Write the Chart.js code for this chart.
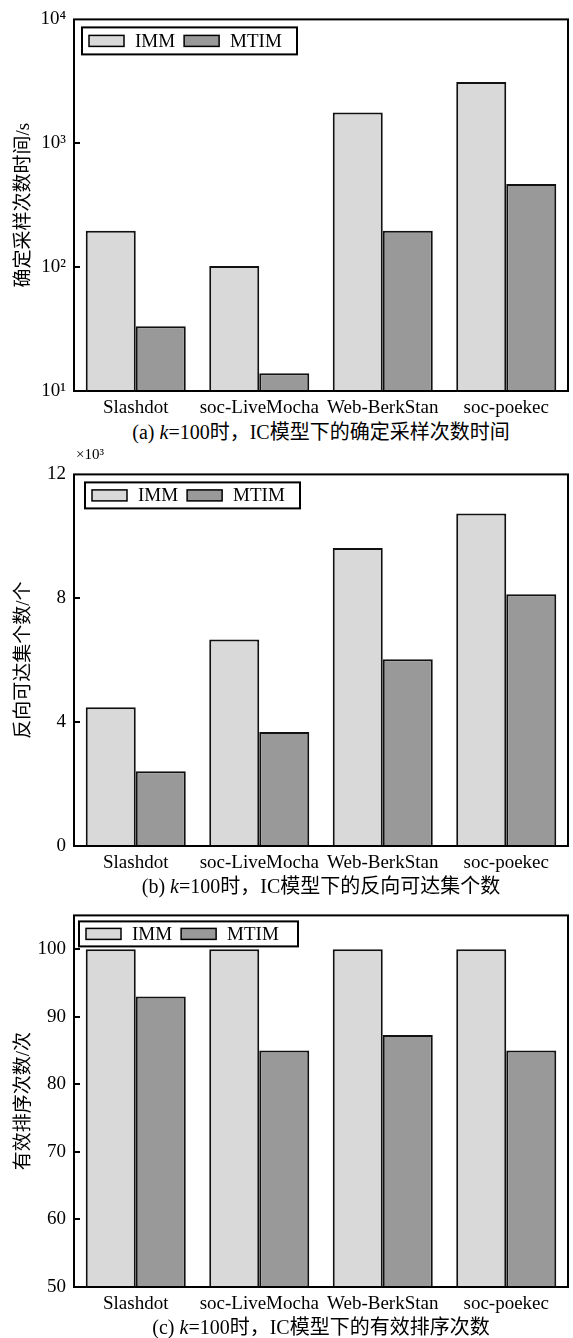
<!DOCTYPE html>
<html>
<head>
<meta charset="utf-8">
<script src="https://cdn.jsdelivr.net/npm/chart.js@4/dist/chart.umd.min.js"></script>
<style>
  body { margin: 0; background: #fff; }
  #page { position: relative; width: 573px; height: 1338px; font-family: "Liberation Serif", "Noto Sans CJK SC", serif; color: #000; }
  .panel { position: absolute; left: 0; width: 573px; height: 420px; }
  .caption { position: absolute; left: 74px; width: 494px; text-align: center; font-size: 20px; line-height: 24px; white-space: nowrap; }
  .mult { position: absolute; left: 76px; top: 446px; font-size: 15px; }
</style>
</head>
<body>
<div id="page">
  <div class="panel" style="top:0px"><canvas id="c1" width="573" height="420"></canvas></div>
  <div class="panel" style="top:455px"><canvas id="c2" width="573" height="420"></canvas></div>
  <div class="panel" style="top:896px"><canvas id="c3" width="573" height="420"></canvas></div>
  <div class="caption" style="top:420px">(a) <i>k</i>=100时，IC模型下的确定采样次数时间</div>
  <div class="mult">×10³</div>
  <div class="caption" style="top:874px">(b) <i>k</i>=100时，IC模型下的反向可达集个数</div>
  <div class="caption" style="top:1315px">(c) <i>k</i>=100时，IC模型下的有效排序次数</div>
</div>
<script>
const categories = ['Slashdot', 'soc-LiveMocha', 'Web-BerkStan', 'soc-poekec'];
const seriesNames = ['IMM', 'MTIM'];

// (a) sampling-count time, seconds (log axis)
const timeIMM = [197, 102, 1770, 3120];
const timeMTIM = [33.4, 13.9, 197, 469];
const timeTicks = [10, 100, 1000, 10000];
const timeTickLabels = ['10¹', '10²', '10³', '10⁴'];

// (b) number of reverse reachable sets
const rrIMM = [4480, 6670, 9620, 10740];
const rrMTIM = [2410, 3680, 6030, 8130];
const rrTicks = [0, 4000, 8000, 12000];
const rrTickLabels = ['0', '4', '8', '12'];

// (c) effective sorting count
const sortIMM = [100, 100, 100, 100];
const sortMTIM = [93, 85, 87.3, 85];
const sortTicks = [50, 60, 70, 80, 90, 100];
const sortTickLabels = ['50', '60', '70', '80', '90', '100'];

const FONT = '"Liberation Serif", "Noto Sans CJK SC", serif';
const immColor = '#d9d9d9';
const mtimColor = '#999999';

// frame around the plot, inward tick marks, boxed legend
const framePlugin = {
    id: 'frame',
    afterDatasetsDraw(chart, args, opts) {
        const { ctx, chartArea: a } = chart;
        const y = chart.scales.y;
        ctx.save();
        ctx.strokeStyle = '#000';
        ctx.lineWidth = 2;
        ctx.strokeRect(a.left, a.top, a.right - a.left, a.bottom - a.top);
        y.ticks.forEach(t => {
            const py = Math.round(y.getPixelForValue(t.value));
            if (py <= a.top + 2 || py >= a.bottom - 2) return;
            ctx.beginPath();
            ctx.moveTo(a.left, py);
            ctx.lineTo(a.left + 6, py);
            ctx.stroke();
        });

        const L = opts.legend;
        const x0 = a.left + L.dx, y0 = a.top + L.dy;
        ctx.fillStyle = '#fff';
        ctx.fillRect(x0, y0, L.w, L.h);
        ctx.strokeRect(x0, y0, L.w, L.h);
        ctx.font = '19px ' + FONT;
        ctx.textBaseline = 'middle';
        const cy = y0 + L.h / 2;
        let x = x0 + 7;
        chart.data.datasets.forEach(ds => {
            ctx.fillStyle = ds.backgroundColor;
            ctx.fillRect(x, cy - 5.5, 35, 11);
            ctx.lineWidth = 1.5;
            ctx.strokeRect(x, cy - 5.5, 35, 11);
            x += 35 + 11;
            ctx.fillStyle = '#000';
            ctx.fillText(ds.label, x, cy + 1);
            x += ctx.measureText(ds.label).width + 9;
        });
        ctx.restore();
    }
};

function makeChart(id, cfg) {
    const ctx = document.getElementById(id).getContext('2d');
    return new Chart(ctx, {
        type: 'bar',
        data: {
            labels: categories,
            datasets: [
                {
                    label: seriesNames[0],
                    data: cfg.imm,
                    backgroundColor: immColor,
                    borderColor: '#111',
                    borderWidth: 2,
                },
                {
                    label: seriesNames[1],
                    data: cfg.mtim,
                    backgroundColor: mtimColor,
                    borderColor: '#111',
                    borderWidth: 2,
                }
            ]
        },
        options: {
            responsive: false,
            animation: false,
            devicePixelRatio: 1,
            categoryPercentage: 0.81,
            barPercentage: 1.0,
            layout: { padding: { top: cfg.top, right: 5, left: 0, bottom: 0 } },
            plugins: {
                legend: { display: false },
                tooltip: { enabled: false },
                frame: { legend: cfg.legend },
            },
            scales: {
                x: {
                    grid: { display: false, drawTicks: false },
                    border: { display: false },
                    ticks: {
                        font: { size: 19, family: FONT },
                        color: '#000',
                        padding: 6,
                        maxRotation: 0,
                        autoSkip: false,
                    },
                    afterFit: s => { s.height = 29; },
                },
                y: {
                    type: cfg.type,
                    min: cfg.min,
                    max: cfg.max,
                    grid: { display: false, drawTicks: false },
                    border: { display: false },
                    title: {
                        display: true,
                        text: cfg.title,
                        font: { size: 19, family: FONT },
                        color: '#000',
                        padding: { top: 13, bottom: 0 },
                    },
                    ticks: {
                        font: { size: 19, family: FONT },
                        color: '#000',
                        padding: 8,
                        callback: (v, i) => cfg.tickLabels[i],
                    },
                    afterBuildTicks: s => { s.ticks = cfg.ticks.map(v => ({ value: v })); },
                    afterFit: s => { s.width = 74; },
                }
            }
        },
        plugins: [framePlugin]
    });
}

Chart.defaults.font.family = FONT;

makeChart('c1', {
    imm: timeIMM, mtim: timeMTIM, type: 'logarithmic', min: 10, max: 10000,
    ticks: timeTicks, tickLabels: timeTickLabels, title: '确定采样次数时间/s', top: 15,
    legend: { dx: 8, dy: 8, w: 215, h: 27 },
});

makeChart('c2', {
    imm: rrIMM, mtim: rrMTIM, type: 'linear', min: 0, max: 12000,
    ticks: rrTicks, tickLabels: rrTickLabels, title: '反向可达集个数/个', top: 14,
    legend: { dx: 11, dy: 8, w: 215, h: 26 },
});

makeChart('c3', {
    imm: sortIMM, mtim: sortMTIM, type: 'linear', min: 50, max: 105,
    ticks: sortTicks, tickLabels: sortTickLabels, title: '有效排序次数/次', top: 15,
    legend: { dx: 5, dy: 6, w: 219, h: 25 },
});
</script>
</body>
</html>
